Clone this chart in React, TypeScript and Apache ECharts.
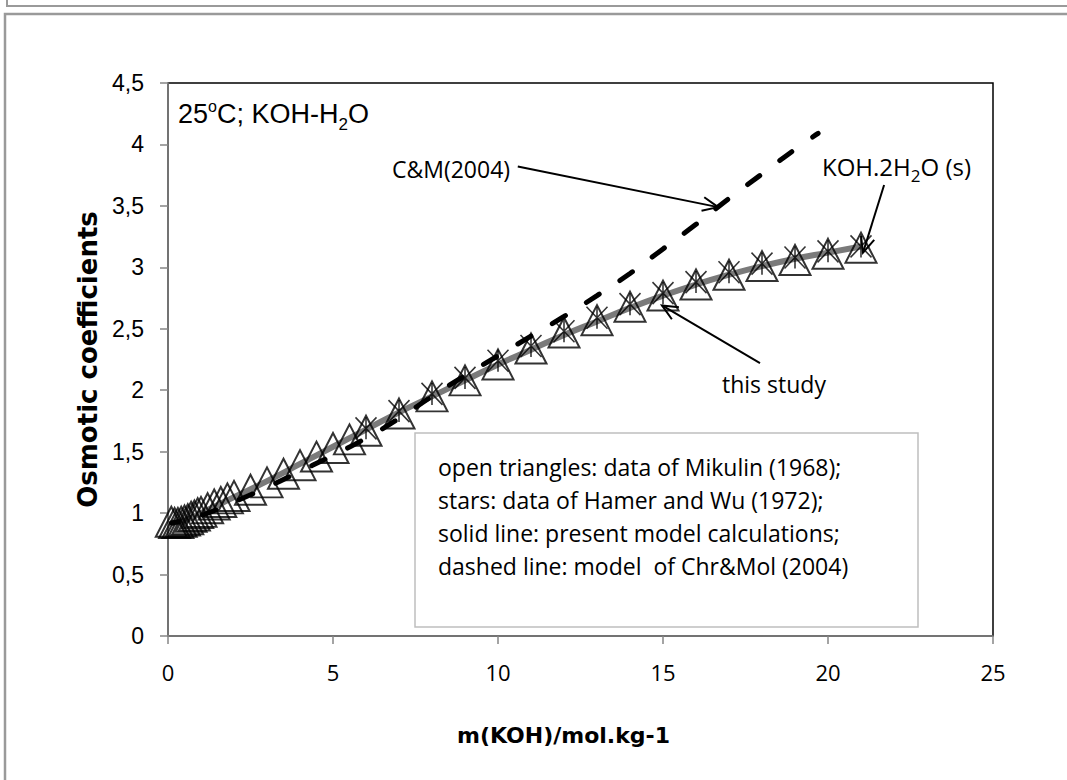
import React, { useEffect, useRef } from "react";
import * as echarts from "echarts";

// Mikulin (1968) – open triangles
const triX = [0.1, 0.2, 0.3, 0.4, 0.5, 0.6, 0.7, 0.8, 0.9, 1.0, 1.2, 1.4, 1.6, 1.8, 2.0, 2.5, 3, 3.5, 4, 4.5, 5, 5.5, 6, 7, 8, 9, 10, 11, 12, 13, 14, 15, 16, 17, 18, 19, 20, 21];
const triY = [0.93, 0.92, 0.92, 0.93, 0.94, 0.95, 0.97, 0.98, 1.0, 1.01, 1.04, 1.07, 1.09, 1.12, 1.14, 1.19, 1.25, 1.32, 1.39, 1.46, 1.53, 1.6, 1.67, 1.81, 1.95, 2.08, 2.21, 2.34, 2.47, 2.57, 2.68, 2.77, 2.86, 2.94, 3.01, 3.06, 3.11, 3.16];

// Hamer and Wu (1972) – stars
const starX = [6, 7, 8, 9, 10, 11, 12, 13, 14, 15, 16, 17, 18, 19, 20, 21];
const starY = [1.69, 1.83, 1.97, 2.1, 2.24, 2.36, 2.48, 2.59, 2.7, 2.79, 2.88, 2.96, 3.03, 3.08, 3.13, 3.17];

// present model – solid line
const modelX = [0.1, 0.5, 1, 2, 3, 4, 5, 6, 7, 8, 9, 10, 11, 12, 13, 14, 15, 16, 17, 18, 19, 20, 21];
const modelY = [0.92, 0.94, 1.0, 1.13, 1.26, 1.4, 1.54, 1.68, 1.82, 1.95, 2.08, 2.21, 2.33, 2.45, 2.56, 2.67, 2.77, 2.86, 2.94, 3.01, 3.07, 3.12, 3.17];

// Chr&Mol (2004) – dashed line
const cmX = [0.1, 0.5, 1, 1.5, 2, 3, 4, 5, 6, 7, 8, 9, 10, 11, 12, 13, 14, 15, 16, 17, 18, 19, 19.7];
const cmY = [0.92, 0.94, 0.98, 1.03, 1.09, 1.21, 1.34, 1.47, 1.61, 1.77, 1.95, 2.12, 2.28, 2.44, 2.6, 2.77, 2.95, 3.15, 3.35, 3.56, 3.76, 3.96, 4.09];

const xTicks = [0, 5, 10, 15, 20, 25];
const yTicks = [0, 0.5, 1, 1.5, 2, 2.5, 3, 3.5, 4, 4.5];

const legendLines = [
  "open triangles: data of Mikulin (1968);",
  "stars: data of Hamer and Wu (1972);",
  "solid line: present model calculations;",
  "dashed line: model  of Chr&Mol (2004)",
];

// annotation arrows, in data coordinates [from, to]
const arrowCM = [[10.6, 3.82], [16.67, 3.49]];
const arrowSolid = [[21.7, 3.67], [21.06, 3.12]];
const arrowStudy = [[17.94, 2.22], [14.97, 2.69]];

const zip = (xs: number[], ys: number[]) => xs.map((x, i) => [x, ys[i]]);

const SANS = "'Open Sans', 'Noto Sans', sans-serif";
const WIDE = "'DejaVu Sans', 'Open Sans', sans-serif";
const ARIAL = "'Liberation Sans', Arial, sans-serif";

function arrow(p0: number[], p1: number[]) {
  const len = 17;
  const ang = 0.42;
  const a = Math.atan2(p1[1] - p0[1], p1[0] - p0[0]);
  const l = [p1[0] - len * Math.cos(a - ang), p1[1] - len * Math.sin(a - ang)];
  const r = [p1[0] - len * Math.cos(a + ang), p1[1] - len * Math.sin(a + ang)];
  return [
    { type: "line", z: 100, shape: { x1: p0[0], y1: p0[1], x2: p1[0], y2: p1[1] }, style: { stroke: "#000", lineWidth: 2 } },
    { type: "polyline", z: 100, shape: { points: [l, p1, r] }, style: { stroke: "#000", lineWidth: 2, fill: null } },
  ];
}

// text run made of segments with sub/superscript offsets (dy relative to the bottom line)
function textRun(x: number, y: number, family: string, segs: { t: string; size: number; dy?: number }[]) {
  const canvas = document.createElement("canvas");
  const ctx = canvas.getContext("2d") as CanvasRenderingContext2D;
  let cx = x;
  return segs.map((s) => {
    const font = `${s.size}px ${family}`;
    ctx.font = font;
    const w = ctx.measureText(s.t).width;
    const el = {
      type: "text",
      z: 100,
      x: cx,
      y: y + (s.dy || 0),
      style: { text: s.t, font, fill: "#000", verticalAlign: "bottom", align: "left" },
    };
    cx += w;
    return el;
  });
}

export default function App() {
  const ref = useRef<HTMLDivElement>(null);
  useEffect(() => {
    if (!ref.current) return;
    const chart = echarts.init(ref.current, undefined, { renderer: "svg" });
    chart.setOption({
      animation: false,
      backgroundColor: "#fff",
      grid: { left: 168, right: 74, top: 83, bottom: 144, show: true, borderColor: "#000", borderWidth: 1.5, backgroundColor: "transparent" },
      xAxis: {
        type: "value",
        min: xTicks[0],
        max: xTicks[xTicks.length - 1],
        interval: 5,
        name: "m(KOH)/mol.kg-1",
        nameLocation: "middle",
        nameGap: 88,
        nameTextStyle: { fontFamily: WIDE, fontWeight: "bold", fontSize: 22, color: "#000", padding: [0, 34, 0, 0] },
        axisLine: { lineStyle: { color: "#868686", width: 1.5 } },
        axisTick: { inside: false, length: 8, lineStyle: { color: "#868686", width: 1.5 } },
        axisLabel: { fontFamily: SANS, fontSize: 22, color: "#000", margin: 25 },
        splitLine: { show: false },
      },
      yAxis: {
        type: "value",
        min: yTicks[0],
        max: yTicks[yTicks.length - 1],
        interval: 0.5,
        name: "Osmotic coefficients",
        nameLocation: "middle",
        nameGap: 62,
        nameTextStyle: { fontFamily: WIDE, fontWeight: "bold", fontSize: 26, color: "#000" },
        axisLine: { lineStyle: { color: "#868686", width: 1.5 } },
        axisTick: { inside: false, length: 8, lineStyle: { color: "#868686", width: 1.5 } },
        axisLabel: {
          fontFamily: ARIAL,
          fontSize: 23,
          color: "#000",
          margin: 24,
          formatter: (v: number) => String(v).replace(".", ","),
        },
        splitLine: { show: false },
      },
      series: [
        {
          type: "line",
          data: zip(modelX, modelY),
          smooth: true,
          symbol: "none",
          lineStyle: { color: "#7a7a7a", width: 6 },
          z: 2,
        },
        {
          type: "scatter",
          data: zip(triX, triY),
          symbol: "triangle",
          symbolSize: [31, 30],
          itemStyle: { color: "rgba(0,0,0,0)", borderColor: "#000", borderWidth: 2 },
          z: 3,
        },
        {
          type: "scatter",
          data: zip(starX, starY),
          symbol: "path://M0,0L20,22M20,0L0,22M10,0L10,22",
          symbolSize: [21, 22],
          itemStyle: { color: "rgba(0,0,0,0)", borderColor: "#000", borderWidth: 1.6 },
          z: 4,
        },
        {
          type: "line",
          data: zip(cmX, cmY),
          smooth: true,
          symbol: "none",
          lineStyle: { color: "#000", width: 5, type: [15, 25], cap: "round", dashOffset: 8 },
          z: 5,
        },
      ],
    });

    const px = (p: number[]) => chart.convertToPixel({ gridIndex: 0 }, p) as number[];

    const graphic: any[] = [
      // outer frames (page decoration)
      { type: "polyline", shape: { points: [[7, 0], [7, 6], [1067, 6]] }, style: { stroke: "#9a9a9a", lineWidth: 2, fill: null } },
      { type: "polyline", shape: { points: [[5, 780], [5, 14], [1067, 14]] }, style: { stroke: "#9a9a9a", lineWidth: 2.5, fill: null } },
      // legend box
      {
        type: "rect",
        z: 90,
        shape: { x: 415, y: 433, width: 503, height: 194 },
        style: { fill: "#fff", stroke: "#bfbfbf", lineWidth: 1.5 },
      },
      {
        type: "text",
        z: 91,
        x: 438,
        y: 450,
        style: { text: legendLines.join("\n"), font: `23px ${SANS}`, lineHeight: 33, fill: "#000", textVerticalAlign: "top" },
      },
      ...textRun(178, 127, ARIAL, [
        { t: "25", size: 27 },
        { t: "o", size: 16, dy: -13 },
        { t: "C; KOH-H", size: 27 },
        { t: "2", size: 17, dy: 6 },
        { t: "O", size: 27 },
      ]),
      {
        type: "text",
        z: 100,
        x: 392,
        y: 157,
        style: { text: "C&M(2004)", font: `23px ${SANS}`, fill: "#000" },
      },
      ...textRun(822, 178, SANS, [
        { t: "KOH.2H", size: 24 },
        { t: "2", size: 17, dy: 6 },
        { t: "O (s)", size: 24 },
      ]),
      {
        type: "text",
        z: 100,
        x: 722,
        y: 372,
        style: { text: "this study", font: `23px ${SANS}`, fill: "#000" },
      },
      ...arrow(px(arrowCM[0]), px(arrowCM[1])),
      ...arrow(px(arrowSolid[0]), px(arrowSolid[1])),
      ...arrow(px(arrowStudy[0]), px(arrowStudy[1])),
    ];
    chart.setOption({ graphic });
    return () => chart.dispose();
  }, []);
  return <div ref={ref} style={{ position: "absolute", left: 0, top: 0, width: 1067, height: 780 }} />;
}
